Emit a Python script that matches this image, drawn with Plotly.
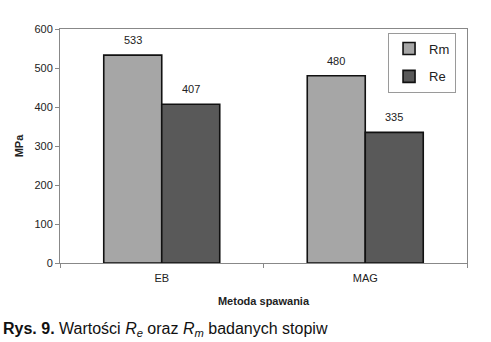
import plotly.graph_objects as go

methods = ["EB", "MAG"]
rm_values = [533, 480]
re_values = [407, 335]
y_ticks = [0, 100, 200, 300, 400, 500, 600]

FONT = "Liberation Sans, Arial, sans-serif"
W, H = 491, 342
M = dict(l=60, r=24, t=29, b=79)
BARGAP = 0.43

fig = go.Figure()
series = [("Rm", rm_values, "#a6a6a6"), ("Re", re_values, "#595959")]
for name, vals, color in series:
    fig.add_trace(go.Bar(
        name=name, x=methods, y=vals, legendgroup=name,
        marker=dict(color=color, line=dict(color="#111111", width=1.6)),
    ))

# value labels above each bar, shifted to the bar's slot within its group
plot_w = W - M["l"] - M["r"]
cat_w = plot_w / len(methods)
bar_w = cat_w * (1 - BARGAP) / len(series)
for j, (name, vals, _) in enumerate(series):
    offset = (j - (len(series) - 1) / 2) * bar_w
    for cat, v in zip(methods, vals):
        fig.add_annotation(
            x=cat, y=v, xref="x", yref="y", text=str(v), showarrow=False,
            xanchor="center", yanchor="bottom", xshift=offset, yshift=7,
            font=dict(family=FONT, size=11, color="#222222"),
        )

fig.update_layout(
    width=W, height=H, margin=M,
    paper_bgcolor="white", plot_bgcolor="white",
    barmode="group", bargap=BARGAP, bargroupgap=0,
    font=dict(family=FONT, size=11, color="#222222"),
    showlegend=True,
    legend=dict(
        x=0.806, y=0.985, xanchor="left", yanchor="top",
        bgcolor="white", bordercolor="#9a9a9a", borderwidth=1,
        font=dict(family=FONT, size=13, color="#222222"),
        itemwidth=30, traceorder="grouped", tracegroupgap=8,
    ),
)

fig.update_xaxes(
    type="category", showline=True, linecolor="#888888", linewidth=1,
    mirror=True, ticks="outside", tickson="boundaries", ticklen=4,
    tickcolor="#888888", showgrid=False, ticklabelstandoff=5,
    tickfont=dict(family=FONT, size=11, color="#222222"),
    title=dict(text="<b>Metoda spawania</b>", standoff=14,
               font=dict(family=FONT, size=11, color="#222222")),
)
fig.update_yaxes(
    range=[0, 600], tickvals=y_ticks, showline=True, linecolor="#888888",
    linewidth=1, mirror=True, ticks="outside", ticklen=4, tickcolor="#888888",
    showgrid=False, zeroline=False,
    tickfont=dict(family=FONT, size=11, color="#222222"),
    title=dict(text="<b>MPa</b>", standoff=8,
               font=dict(family=FONT, size=11, color="#222222")),
)

fig.add_annotation(
    xref="paper", yref="paper", x=-0.145, y=-0.235,
    xanchor="left", yanchor="top", showarrow=False,
    text="<b>Rys. 9.</b> Wartości <i>R</i><sub><i>e</i></sub> oraz <i>R</i><sub><i>m</i></sub> badanych stopiw",
    font=dict(family=FONT, size=16, color="#111111"),
)

fig.write_html("out.html")
